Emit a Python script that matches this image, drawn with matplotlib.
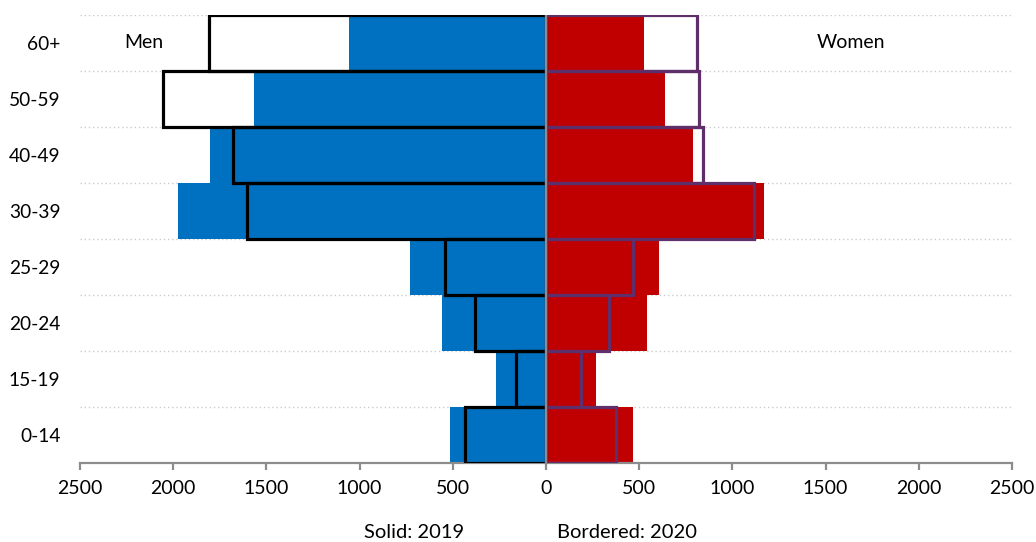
import matplotlib.pyplot as plt

plt.rcParams['font.family'] = ['Lato', 'DejaVu Sans']

# age groups, bottom to top
ages = ['0-14', '15-19', '20-24', '25-29', '30-39', '40-49', '50-59', '60+']

men_2019 = [515, 268, 558, 730, 1974, 1803, 1567, 1057]
men_2020 = [435, 161, 381, 542, 1604, 1679, 2055, 1808]
women_2019 = [467, 268, 542, 606, 1170, 789, 638, 526]
women_2020 = [375, 188, 338, 467, 1116, 842, 821, 810]

fig = plt.figure(figsize=(10.36, 5.42), dpi=100)
ax = fig.add_axes([80 / 1036, (542 - 463) / 542, 932 / 1036, 448 / 542])

y = list(range(len(ages)))

# solid bars (2019)
ax.barh(y, [-v for v in men_2019], height=1.0, color='#0070C0', zorder=2)
ax.barh(y, women_2019, height=1.0, color='#C00000', zorder=2)

# bordered bars (2020)
ax.barh(y, [-v for v in men_2020], height=1.0, fill=False,
        edgecolor='black', linewidth=2.3, zorder=3)
ax.barh(y, women_2020, height=1.0, fill=False,
        edgecolor='#5E2F6A', linewidth=2.3, zorder=3)

# centre line
ax.axvline(0, color='#8C8C8C', linewidth=1.6, zorder=4)

# dotted gridlines between groups
for b in range(1, len(ages) + 1):
    ax.axhline(b - 0.5, color='#CCCCCC', linewidth=1.0,
               linestyle=(0, (1, 2)), zorder=1)

ax.set_xlim(-2500, 2500)
ax.set_ylim(-0.5, len(ages) - 0.5)
ticks = [-2500, -2000, -1500, -1000, -500, 0, 500, 1000, 1500, 2000, 2500]
ax.set_xticks(ticks)
ax.set_xticklabels([str(abs(t)) for t in ticks])
ax.set_yticks(y)
ax.set_yticklabels(ages)

for s in ['top', 'right', 'left']:
    ax.spines[s].set_visible(False)
ax.spines['bottom'].set_color('#8C8C8C')
ax.spines['bottom'].set_linewidth(1.6)
ax.tick_params(axis='x', length=5, width=1.6, color='#8C8C8C',
               labelsize=14, pad=7)
ax.tick_params(axis='y', length=0, labelsize=13.8, pad=14)

ax.text(-2157, 7, 'Men', fontsize=14, ha='center', va='center')
ax.text(1636, 7, 'Women', fontsize=14, ha='center', va='center')

fig.text(414 / 1036, 1 - 532 / 542, 'Solid: 2019', fontsize=14.5,
         ha='center', va='center')
fig.text(627 / 1036, 1 - 532 / 542, 'Bordered: 2020', fontsize=14.5,
         ha='center', va='center')

fig.savefig('out.png', dpi=100)
